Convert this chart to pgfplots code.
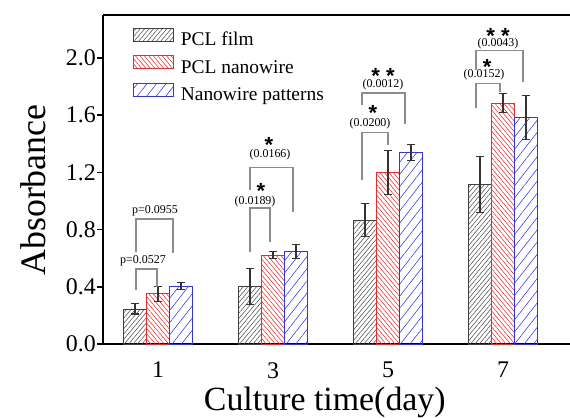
\documentclass[border=0pt]{standalone}
\usepackage{fontspec}
\setmainfont{Liberation Serif}
\newfontfamily\sansb{Liberation Sans}
\usepackage{pgfplots}
\usepackage{pgfplotstable}
\pgfplotsset{compat=1.18}
\usetikzlibrary{patterns.meta}

\pgfplotstableread{
x y e
1 0.245 0.035
3 0.400 0.125
5 0.865 0.115
7 1.115 0.195
}\film
\pgfplotstableread{
x y e
1 0.350 0.055
3 0.622 0.022
5 1.200 0.155
7 1.685 0.068
}\wire
\pgfplotstableread{
x y e
1 0.405 0.025
3 0.645 0.048
5 1.340 0.055
7 1.585 0.155
}\patt

\definecolor{hatchblack}{RGB}{80,80,80}
\definecolor{myred}{RGB}{240,40,40}
\definecolor{myblue}{RGB}{50,50,245}

\tikzset{
  br/.style={draw=black!45, line width=1.1bp},
  pv/.style={font=\fontsize{12}{12}\selectfont, inner sep=0pt},
  st/.style={font=\sansb\bfseries\fontsize{22}{22}\selectfont, inner sep=0pt, anchor=base, yshift=-12bp},
}
\pgfplotsset{
  eb/.style={error bars/.cd, y dir=both, y explicit,
    error bar style={line width=1.1bp, black!80},
    error mark options={rotate=90, mark size=4bp, line width=1.1bp, black!80}},
  rectlegend/.style={legend image code/.code={\draw[##1] (0bp,0bp) rectangle (40bp,13bp);}},
}

\begin{document}
\begin{tikzpicture}
\begin{axis}[name=ax, scale only axis, width=467bp, height=329bp,
  xmin=0.043, xmax=8.165, ymin=0, ymax=2.30,
  clip=false,
  ybar=0pt, bar width=0.4,
  axis x line*=box, axis y line*=left,
  axis line style={-, line width=2.4bp, black},
  every outer y axis line/.append style={-},
  every outer x axis line/.append style={-},
  tick align=outside, major tick length=6bp,
  ytick={0,0.4,0.8,1.2,1.6,2.0},
  xtick={1,3,5,7},
  xtick style={draw=none},
  ytick style={line width=1.5bp, black},
  minor tick num=0,
  /pgf/number format/assume math mode=true,
  yticklabel={\pgfmathprintnumber[fixed, fixed zerofill, precision=1]{\tick}},
  ticklabel style={font=\fontsize{24}{24}\selectfont},
  xticklabel style={anchor=north, inner sep=0pt, yshift=-12bp},
  yticklabel style={inner sep=0pt, xshift=-1bp},
  xlabel={Culture time(day)},
  ylabel={Absorbance},
  every axis x label/.style={at={(axis description cs:0.475,-0.178)}, anchor=center, font=\fontsize{34}{34}\selectfont},
  every axis y label/.style={at={(axis description cs:-0.15,0.468)}, rotate=90, anchor=center, font=\fontsize{36}{36}\selectfont},
  legend style={at={(axis description cs:0.0642,0.9605)}, anchor=north west, draw=none, fill=none,
    inner sep=0pt, outer sep=0pt, row sep=5.5bp,
    font=\fontsize{19.5}{19.5}\selectfont,
    nodes={inner sep=0pt, text height=13bp, text depth=4bp},
    /tikz/every odd column/.style={column sep=7bp}},
  legend cell align=left,
]
\addplot[draw=black!75, line width=0.9bp,
  pattern={Lines[angle=50,distance=3.4bp,line width=0.55bp]}, pattern color=hatchblack,
  rectlegend, eb]
  table[x=x, y=y, y error=e] {\film};
\addlegendentry{PCL film}
\addplot[draw=myred, line width=0.9bp,
  pattern={Lines[angle=130,distance=3.4bp,line width=0.55bp]}, pattern color=myred,
  rectlegend, eb]
  table[x=x, y=y, y error=e] {\wire};
\addlegendentry{PCL nanowire}
\addplot[draw=myblue, line width=0.9bp,
  pattern={Lines[angle=52,distance=7.5bp,line width=0.55bp]}, pattern color=myblue,
  rectlegend, eb]
  table[x=x, y=y, y error=e] {\patt};
\addlegendentry{Nanowire patterns}

% day 1
\draw[br] (axis cs:0.617,0.378) |- (axis cs:0.983,0.524) -- (axis cs:0.983,0.399);
\node[pv] at (axis cs:0.739,0.580) {p=0.0527};
\draw[br] (axis cs:0.617,0.643) |- (axis cs:1.261,0.874) -- (axis cs:1.261,0.636);
\node[pv] at (axis cs:0.948,0.930) {p=0.0955};
% day 3
\draw[br] (axis cs:2.6,0.643) |- (axis cs:2.948,0.951) -- (axis cs:2.948,0.713);
\node[pv] at (axis cs:2.687,0.993) {(0.0189)};
\node[st] at (axis cs:2.791,1.098) {*};
\draw[br] (axis cs:2.6,1.077) |- (axis cs:3.348,1.231) -- (axis cs:3.348,0.923);
\node[pv] at (axis cs:2.948,1.322) {(0.0166)};
\node[st] at (axis cs:2.93,1.42) {*};
% day 5
\draw[br] (axis cs:4.548,1.147) |- (axis cs:5.0,1.476) -- (axis cs:5.0,1.392);
\node[pv] at (axis cs:4.687,1.538) {(0.0200)};
\node[st] at (axis cs:4.739,1.643) {*};
\draw[br] (axis cs:4.548,1.671) |- (axis cs:5.296,1.755) -- (axis cs:5.296,1.538);
\node[pv] at (axis cs:4.913,1.811) {(0.0012)};
\node[st] at (axis cs:4.913,1.902) {* *};
% day 7
\draw[br] (axis cs:6.530,1.650) |- (axis cs:6.948,1.818) -- (axis cs:6.948,1.762);
\node[pv] at (axis cs:6.670,1.881) {(0.0152)};
\node[st] at (axis cs:6.722,1.965) {*};
\draw[br] (axis cs:6.530,1.916) |- (axis cs:7.348,2.049) -- (axis cs:7.348,1.832);
\node[pv] at (axis cs:6.913,2.098) {(0.0043)};
\node[st] at (axis cs:6.913,2.182) {* *};
\end{axis}
\pgfresetboundingbox
\path[use as bounding box] ([xshift=-103bp,yshift=-74bp]ax.south west) rectangle ([yshift=15bp]ax.north east);
\end{tikzpicture}
\end{document}
